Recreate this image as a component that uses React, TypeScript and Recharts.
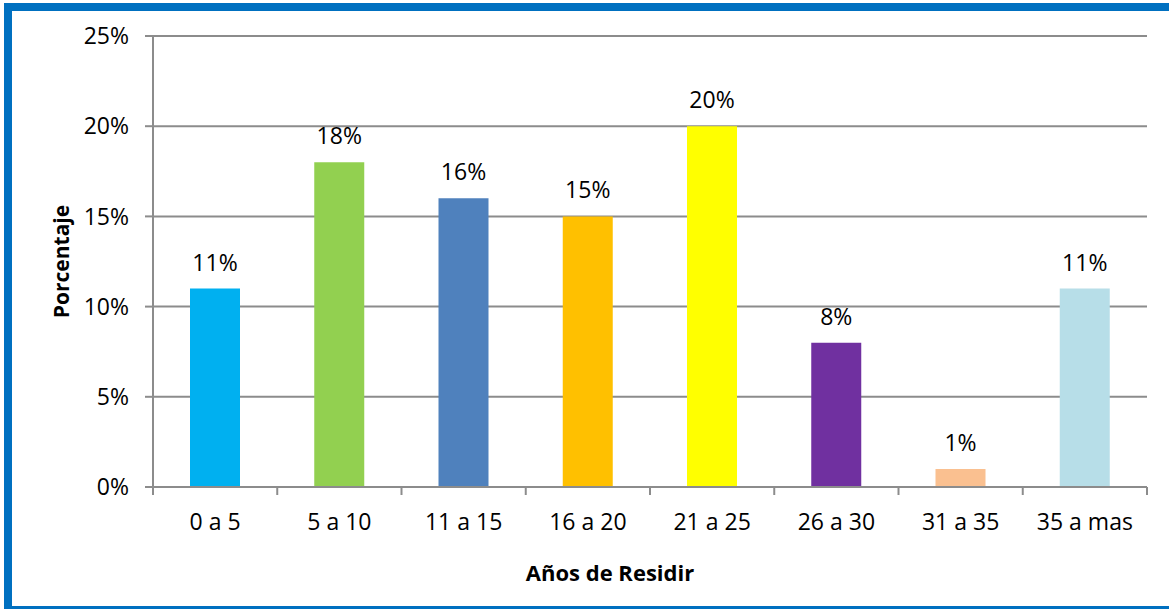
import React from "react";
import { BarChart, Bar, XAxis, YAxis, CartesianGrid, Cell, LabelList } from "recharts";

const categories = ["0 a 5", "5 a 10", "11 a 15", "16 a 20", "21 a 25", "26 a 30", "31 a 35", "35 a mas"];
const values = [0.11, 0.18, 0.16, 0.15, 0.2, 0.08, 0.01, 0.11];
const colors = ["#00B0F0", "#92D050", "#4F81BD", "#FFC000", "#FFFF00", "#7030A0", "#FAC090", "#B7DEE8"];
const yTicks = [0, 0.05, 0.1, 0.15, 0.2, 0.25];

const data = categories.map((name, i) => ({ name, value: values[i] }));

const FONT = "'Open Sans', sans-serif";
const GRAY = "#8c8c8c";
const TICK_SIZE = 8;
const TICK_MARGIN = 19;
const pct = (v: any) => `${Math.round(Number(v) * 100)}%`;

// Excel puts category ticks between the bars, so each tick draws a line at its left edge (and the last one at its right edge too)
const CategoryTick = (props: any) => {
    const { x, y, payload, index, width, visibleTicksCount } = props;
    const half = width / visibleTicksCount / 2;
    const axisY = y - TICK_SIZE - TICK_MARGIN;
    return (
        <g>
            <line x1={x - half} x2={x - half} y1={axisY} y2={axisY + TICK_SIZE} stroke={GRAY} strokeWidth={2} />
            {index === visibleTicksCount - 1 && (
                <line x1={x + half} x2={x + half} y1={axisY} y2={axisY + TICK_SIZE} stroke={GRAY} strokeWidth={2} />
            )}
            <text x={x} y={y} dy="0.71em" textAnchor="middle" fill="#000" fontSize={23} fontFamily={FONT}>
                {payload.value}
            </text>
        </g>
    );
};

export default function App() {
    return (
        <div style={{ position: "absolute", left: 0, top: 0, width: 1169, height: 609, overflow: "hidden", background: "#fff" }}>
            <div
                style={{
                    position: "absolute",
                    left: 4,
                    top: 3,
                    width: 1200,
                    height: 611,
                    border: "8px solid #0070C0",
                    boxSizing: "border-box",
                }}
            />
            <div style={{ position: "absolute", left: 0, top: 0 }}>
                <BarChart
                    width={1169}
                    height={609}
                    data={data}
                    margin={{ top: 36, right: 22, bottom: 91, left: 73 }}
                    barSize={50}
                    style={{ fontFamily: FONT }}
                >
                    <CartesianGrid vertical={false} stroke={GRAY} strokeWidth={2} />
                    <XAxis
                        dataKey="name"
                        height={31}
                        axisLine={{ stroke: GRAY, strokeWidth: 2 }}
                        tickLine={false}
                        tickSize={TICK_SIZE}
                        tickMargin={TICK_MARGIN}
                        interval={0}
                        tick={<CategoryTick />}
                        label={{
                            content: () => (
                                <text x={610} y={572} textAnchor="middle" dominantBaseline="central"
                                    fontSize={22} fontWeight="bold" fontFamily={FONT} fill="#000">
                                    Años de Residir
                                </text>
                            ),
                        }}
                    />
                    <YAxis
                        width={80}
                        domain={[0, 0.25]}
                        ticks={yTicks}
                        tickFormatter={pct}
                        axisLine={{ stroke: GRAY, strokeWidth: 2 }}
                        tickLine={{ stroke: GRAY, strokeWidth: 2 }}
                        tickSize={8}
                        tickMargin={16}
                        tick={{ fill: "#000", fontSize: 23, fontFamily: FONT }}
                        label={{
                            content: (props: any) => {
                                const vb = props.viewBox || { y: 36, height: 451 };
                                const cy = vb.y + vb.height / 2;
                                return (
                                    <text x={61} y={cy} transform={`rotate(-90, 61, ${cy})`} textAnchor="middle"
                                        dominantBaseline="central" fontSize={21} fontWeight="bold" fontFamily={FONT} fill="#000">
                                        Porcentaje
                                    </text>
                                );
                            },
                        }}
                    />
                    <Bar dataKey="value" isAnimationActive={false}>
                        {data.map((entry, i) => (
                            <Cell key={`cell-${i}`} fill={colors[i]} />
                        ))}
                        <LabelList dataKey="value" position="top" offset={18} formatter={pct}
                            style={{ fill: "#000", fontSize: 23, fontFamily: FONT }} />
                    </Bar>
                </BarChart>
            </div>
        </div>
    );
}
